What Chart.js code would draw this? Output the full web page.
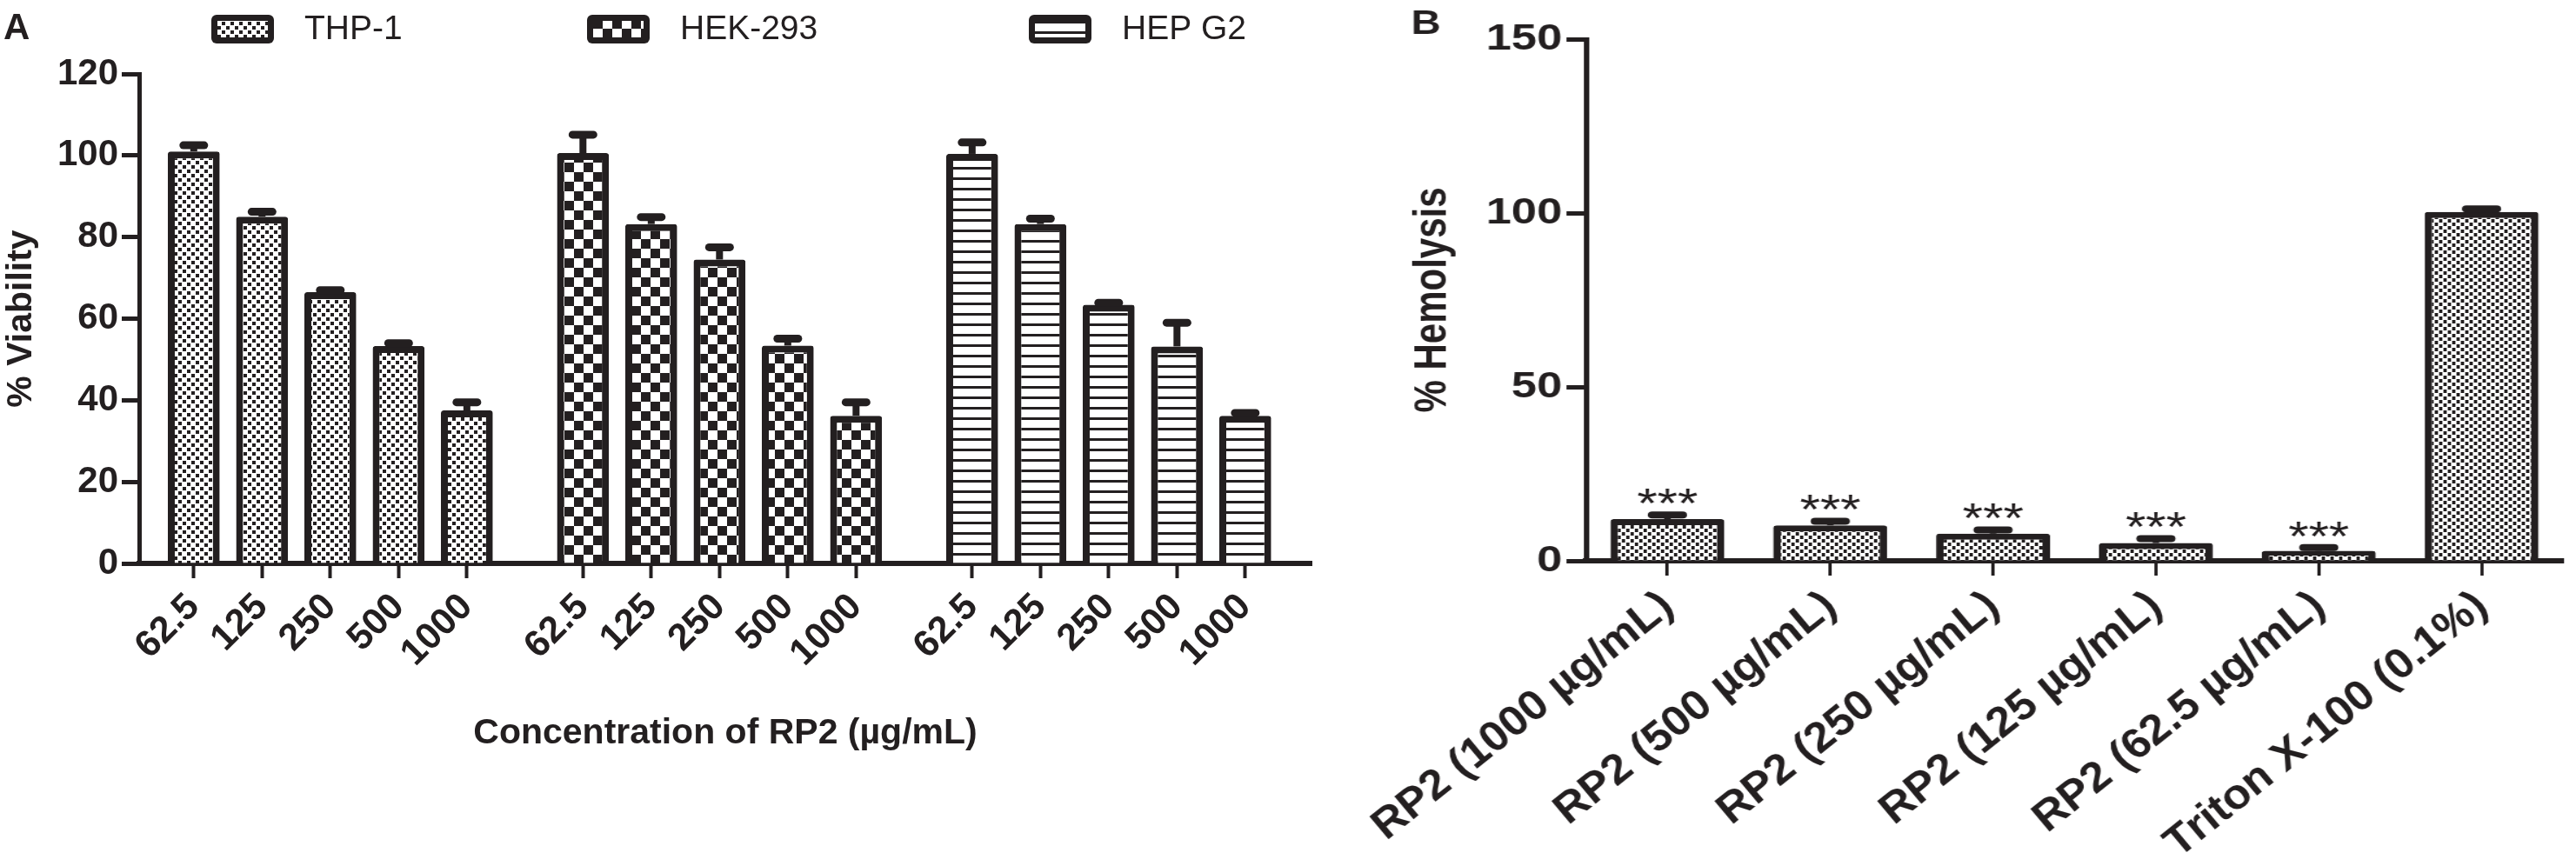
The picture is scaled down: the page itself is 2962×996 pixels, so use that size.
<!DOCTYPE html>
<html>
<head>
<meta charset="utf-8">
<script src="https://cdn.jsdelivr.net/npm/chart.js@4.4.1/dist/chart.umd.min.js"></script>
<style>
  html, body { margin: 0; padding: 0; background: #fff; }
  body { width: 2962px; height: 996px; position: relative; overflow: hidden; }
  #viability { position: absolute; left: 0; top: 0; }
  #hemolysis { position: absolute; left: 1520px; top: 0; }
</style>
</head>
<body>
<canvas id="viability" width="1560" height="996" style="width:1560px;height:996px"></canvas>
<!-- panel B is drawn narrower and stretched sideways, like the published figure -->
<canvas id="hemolysis" width="1154" height="996" style="width:1442px;height:996px"></canvas>
<script>
// ---- panel A: cell viability (%) ----
const concLabels = ['62.5', '125', '250', '500', '1000'];
const cellLines = ['THP-1', 'HEK-293', 'HEP G2'];
const thp1 = [101, 85, 66.5, 53.3, 37.5];
const thp1Err = [1.5, 1.2, 0.5, 0.7, 2];
const hek293 = [100.6, 83.2, 74.5, 53.4, 36.2];
const hek293Err = [4.5, 1.7, 3, 1.7, 3.3];
const hepG2 = [100.4, 83.2, 63.4, 53.2, 36.2];
const hepG2Err = [2.8, 1.3, 0.5, 5.8, 0.7];
const viabilityTicks = [0, 20, 40, 60, 80, 100, 120];

// ---- panel B: hemolysis (%) ----
const hemoLabels = ['RP2 (1000 µg/mL)', 'RP2 (500 µg/mL)', 'RP2 (250 µg/mL)',
                    'RP2 (125 µg/mL)', 'RP2 (62.5 µg/mL)', 'Triton X-100 (0.1%)'];
const hemolysis = [12, 10.2, 7.8, 5.1, 2.9, 100.3];
const hemolysisErr = [1.2, 1.2, 1.1, 1.3, 0.9, 0.9];
const significance = ['***', '***', '***', '***', '***', ''];
const hemoTicks = [0, 50, 100, 150];

const INK = '#231f20';
const FONT = '"Liberation Sans", Arial, Helvetica, sans-serif';
Chart.defaults.font.family = FONT;
Chart.defaults.color = INK;
Chart.defaults.animation = false;

const cvA = document.getElementById('viability');
const cvB = document.getElementById('hemolysis');

function makePattern(canvas, w, h, paint) {
  const tile = document.createElement('canvas');
  tile.width = w;
  tile.height = h;
  const t = tile.getContext('2d');
  t.fillStyle = '#fff';
  t.fillRect(0, 0, w, h);
  t.fillStyle = INK;
  paint(t);
  return canvas.getContext('2d').createPattern(tile, 'repeat');
}

const fineChecks = makePattern(cvA, 10, 10, t => { t.fillRect(0, 0, 4, 4); t.fillRect(5, 5, 4, 4); });
const bigChecks = makePattern(cvA, 22, 22, t => { t.fillRect(0, 0, 11, 11); t.fillRect(11, 11, 11, 11); });
const stripes = makePattern(cvA, 12, 12, t => t.fillRect(0, 0, 12, 3));
const dotsB = makePattern(cvB, 8, 8, t => { t.fillRect(0, 0, 3, 4); t.fillRect(4, 4, 3, 4); });

// mean + SD, upper whisker only
const errorBars = {
  id: 'errorBars',
  afterDatasetsDraw(chart, args, opts) {
    const ctx = chart.ctx;
    const y = chart.scales.y;
    ctx.save();
    ctx.strokeStyle = INK;
    chart.data.datasets.forEach((ds, di) => {
      const meta = chart.getDatasetMeta(di);
      meta.data.forEach((bar, i) => {
        const v = meta.controller.getParsed(i).y;
        const top = y.getPixelForValue(v + ds.errors[i]);
        ctx.lineCap = 'butt';
        ctx.lineWidth = opts.stem;
        ctx.beginPath();
        ctx.moveTo(bar.x, bar.y);
        ctx.lineTo(bar.x, top);
        ctx.stroke();
        ctx.lineCap = 'round';
        ctx.lineWidth = opts.cap;
        ctx.beginPath();
        ctx.moveTo(bar.x - opts.half, top);
        ctx.lineTo(bar.x + opts.half, top);
        ctx.stroke();
        if (ds.marks && ds.marks[i]) {
          ctx.fillStyle = INK;
          ctx.font = opts.markFont;
          ctx.textAlign = 'center';
          ctx.textBaseline = 'alphabetic';
          ctx.fillText(ds.marks[i], bar.x, top + opts.markShift);
        }
      });
    });
    ctx.restore();
  }
};

const panelTag = {
  id: 'panelTag',
  afterDraw(chart, args, opts) {
    const ctx = chart.ctx;
    ctx.save();
    ctx.fillStyle = INK;
    ctx.font = 'bold ' + opts.size + 'px ' + FONT;
    ctx.textAlign = 'left';
    ctx.textBaseline = 'top';
    ctx.fillText(opts.text, opts.x, opts.y);
    ctx.restore();
  }
};

const swatchLegend = {
  id: 'swatchLegend',
  afterDraw(chart, args, opts) {
    const ctx = chart.ctx;
    ctx.save();
    chart.data.datasets.forEach((ds, i) => {
      const x = opts.x[i];
      ctx.fillStyle = INK;
      ctx.beginPath();
      ctx.roundRect(x, opts.y, opts.w, opts.h, 6);
      ctx.fill();
      ctx.fillStyle = ds.backgroundColor;
      ctx.fillRect(x + 7, opts.y + 7, opts.w - 14, opts.h - 14);
      ctx.fillStyle = INK;
      ctx.font = opts.size + 'px ' + FONT;
      ctx.textAlign = 'left';
      ctx.textBaseline = 'middle';
      ctx.fillText(ds.label, x + opts.w + 35, opts.y + opts.h / 2 + 1);
    });
    ctx.restore();
  }
};

// ---------- panel A ----------
const groupStart = [0, 5.7, 11.4];
const xPos = [];
groupStart.forEach(g => concLabels.forEach((c, i) => xPos.push(g + i)));

function series(values, g) {
  return values.map((v, i) => ({ x: xPos[g * concLabels.length + i], y: v }));
}

const barStyle = {
  borderColor: INK,
  borderWidth: 8,
  borderRadius: { topLeft: 3, topRight: 3 },
  grouped: false,
  barPercentage: 0.76,
  categoryPercentage: 1
};

new Chart(cvA, {
  type: 'bar',
  data: {
    datasets: [
      Object.assign({ label: cellLines[0], data: series(thp1, 0), errors: thp1Err, backgroundColor: fineChecks }, barStyle),
      Object.assign({ label: cellLines[1], data: series(hek293, 1), errors: hek293Err, backgroundColor: bigChecks }, barStyle),
      Object.assign({ label: cellLines[2], data: series(hepG2, 2), errors: hepG2Err, backgroundColor: stripes }, barStyle)
    ]
  },
  options: {
    responsive: false,
    devicePixelRatio: 1,
    events: [],
    layout: { padding: { left: 0, top: 85, right: 52, bottom: 0 } },
    plugins: {
      legend: { display: false },
      tooltip: { enabled: false },
      errorBars: { stem: 8, cap: 9, half: 12 },
      panelTag: { text: 'A', x: 4, y: 12, size: 42 },
      swatchLegend: { x: [243, 675, 1183], y: 17, w: 72, h: 33, size: 39 }
    },
    scales: {
      x: {
        type: 'linear',
        offset: false,
        min: xPos[0] - 0.8,
        max: xPos[xPos.length - 1] + 0.97,
        afterBuildTicks: s => { s.ticks = xPos.map(v => ({ value: v })); },
        afterFit: s => { s.height = 348; s.paddingLeft = 0; s.paddingRight = 0; },
        ticks: {
          autoSkip: false,
          minRotation: 45,
          maxRotation: 45,
          padding: 8,
          color: INK,
          font: { size: 43, weight: 'bold' },
          callback: (value, index) => concLabels[index % concLabels.length]
        },
        grid: { offset: false, drawOnChartArea: false, color: INK, tickLength: 17, tickWidth: 4 },
        border: { color: INK, width: 6 },
        title: {
          display: true,
          text: 'Concentration of RP2 (µg/mL)',
          color: INK,
          font: { size: 41, weight: 'bold' },
          padding: { top: 0, bottom: 128 }
        }
      },
      y: {
        min: 0,
        max: 120,
        afterBuildTicks: s => { s.ticks = viabilityTicks.map(v => ({ value: v })); },
        afterFit: s => { s.width = 160; },
        ticks: { padding: 4, color: INK, font: { size: 42, weight: 'bold' } },
        grid: { drawOnChartArea: false, color: INK, tickLength: 20, tickWidth: 5 },
        border: { color: INK, width: 5 },
        title: {
          display: true,
          text: '% Viability',
          color: INK,
          font: { size: 41, weight: 'bold' },
          padding: { top: 0, bottom: 0 }
        }
      }
    }
  },
  plugins: [errorBars, panelTag, swatchLegend]
});

// ---------- panel B ----------
new Chart(cvB, {
  type: 'bar',
  data: {
    labels: hemoLabels,
    datasets: [{
      label: '% Hemolysis',
      data: hemolysis,
      errors: hemolysisErr,
      marks: significance,
      backgroundColor: dotsB,
      borderColor: INK,
      borderWidth: 7,
      borderRadius: { topLeft: 3, topRight: 3 },
      barPercentage: 0.7,
      categoryPercentage: 1
    }]
  },
  options: {
    responsive: false,
    devicePixelRatio: 1,
    events: [],
    layout: { padding: { left: 0, top: 45, right: 12, bottom: 0 } },
    plugins: {
      legend: { display: false },
      tooltip: { enabled: false },
      errorBars: { stem: 6, cap: 8, half: 14, markFont: '48px ' + FONT, markShift: 3 },
      panelTag: { text: 'B', x: 82, y: 10, size: 38 }
    },
    scales: {
      x: {
        afterFit: s => { s.height = 351; s.paddingLeft = 0; s.paddingRight = 0; },
        ticks: {
          autoSkip: false,
          minRotation: 45,
          maxRotation: 45,
          padding: 10,
          color: INK,
          font: { size: 45, weight: 'bold', style: 'italic' }
        },
        grid: { offset: false, drawOnChartArea: false, color: INK, tickLength: 17, tickWidth: 3 },
        border: { color: INK, width: 6 }
      },
      y: {
        min: 0,
        max: 150,
        afterBuildTicks: s => { s.ticks = hemoTicks.map(v => ({ value: v })); },
        afterFit: s => { s.width = 243; },
        ticks: { padding: 4, color: INK, font: { size: 42, weight: 'bold' } },
        grid: { drawOnChartArea: false, color: INK, tickLength: 18, tickWidth: 5 },
        border: { color: INK, width: 5 },
        title: {
          display: true,
          text: '% Hemolysis',
          color: INK,
          font: { size: 42, weight: 'bold' },
          padding: { top: 77, bottom: 0 }
        }
      }
    }
  },
  plugins: [errorBars, panelTag]
});
</script>
</body>
</html>
